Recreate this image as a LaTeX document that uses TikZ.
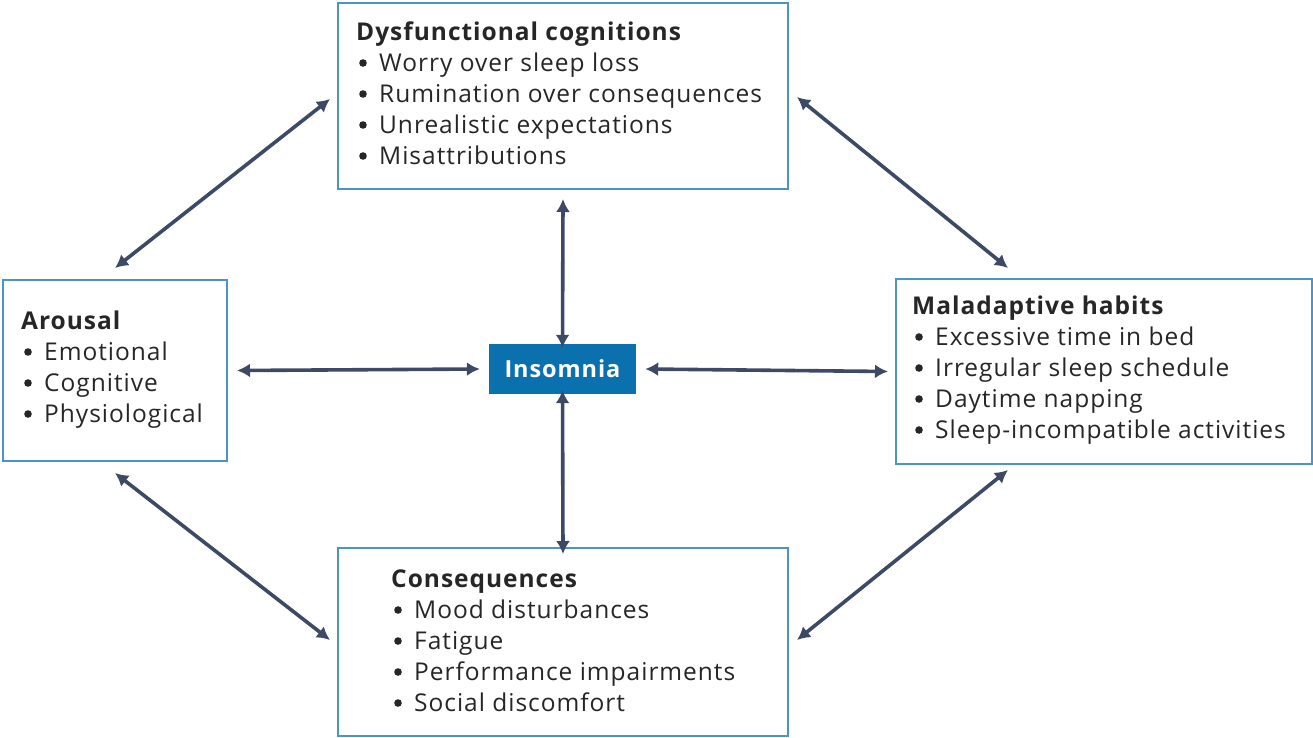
\documentclass[tikz,border=0pt]{standalone}
\usepackage{fontspec}
\setmainfont{Open Sans}[LetterSpace=4]
\usetikzlibrary{arrows.meta}
\definecolor{boxblue}{HTML}{4A94C8}
\definecolor{insblue}{HTML}{0A70AE}
\definecolor{arrowgray}{HTML}{3D4A66}
\begin{document}
\begin{tikzpicture}[x=1pt,y=-1pt,
  box/.style={draw=boxblue,line width=2pt,anchor=north west,inner sep=0pt},
  txt/.style={anchor=base west,inner sep=0pt,font=\fontsize{24.5}{31}\selectfont,text=black!85},
  head/.style={txt,font=\fontsize{24.5}{31}\selectfont\bfseries},
  link/.style={draw=arrowgray,line width=3.6pt,{Latex[length=13pt,width=14pt]}-{Latex[length=13pt,width=14pt]}}]

\useasboundingbox (0,0) rectangle (1313,737);

% boxes
\node[box,minimum width=450,minimum height=186] (dys) at (337,2) {};
\node[box,minimum width=224,minimum height=181] (aro) at (2,279) {};
\node[box,minimum width=416,minimum height=185] (mal) at (895,278) {};
\node[box,minimum width=450,minimum height=188] (con) at (337,547) {};
\node[fill=insblue,minimum width=147,minimum height=50,inner sep=0pt,
  text=white,font=\fontsize{23.5}{28}\selectfont\bfseries] (ins) at (562.5,369) {Insomnia};

% texts
\def\liste#1#2#3#4#5{
\node[head] (#1-0) at (#2-23,#3) {#4};
\foreach \t [count=\i] in {#5}{
  \fill[black!85] (#2-16,#3+31*\i-8) circle[radius=3.8];
  \node[txt] (#1-\i) at (#2,#3+31*\i) {\t};
}
}
\liste{dys}{379}{40}{Dysfunctional cognitions}{Worry over sleep loss,Rumination over consequences,Unrealistic expectations,Misattributions}
\liste{aro}{44}{329}{Arousal}{Emotional,Cognitive,Physiological}
\liste{mal}{935}{314}{Maladaptive habits}{Excessive time in bed,Irregular sleep schedule,Daytime napping,Sleep-incompatible activities}
\liste{con}{414}{587}{Consequences}{Mood disturbances,Fatigue,Performance impairments,Social discomfort}

% arrow ends
\coordinate (a1) at (115,268);
\coordinate (d1) at (330,99);
\coordinate (d2) at (797,97);
\coordinate (m1) at (1008,268);
\coordinate (a2) at (115,473);
\coordinate (c1) at (330,640);
\coordinate (c2) at (797,640);
\coordinate (m2) at (1008,470);

\draw[link] ([xshift=9pt]aro.east) -- ([xshift=-9pt]ins.west);
\draw[link] ([xshift=9pt]ins.east) -- ([xshift=-7pt]mal.west);
\draw[link] ([yshift=-9pt]dys.south) -- ([yshift=-4pt]ins.north);
\draw[link] ([yshift=4pt]ins.south) -- ([yshift=-7pt]con.north);
\draw[link] (a1) -- (d1);
\draw[link] (d2) -- (m1);
\draw[link] (a2) -- (c1);
\draw[link] (c2) -- (m2);

\end{tikzpicture}
\end{document}
